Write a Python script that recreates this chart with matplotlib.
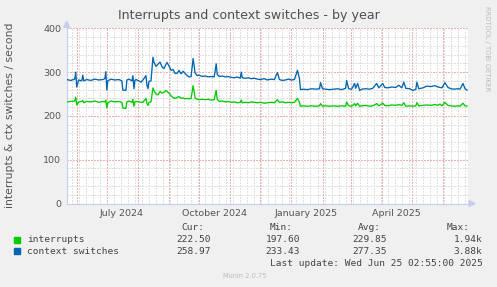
import datetime as dt
import matplotlib
matplotlib.use("Agg")
import matplotlib.pyplot as plt
import matplotlib.dates as mdates
from matplotlib.patches import Polygon, Rectangle

# ---------------- data ----------------
start_date = dt.datetime(2024, 5, 22)
end_date = dt.datetime(2025, 6, 26)

ctx_days = [0, 4, 8, 9, 10, 12, 15, 16, 17, 20, 24, 28, 32, 36, 38, 39, 40, 41, 44, 48, 52, 55, 56, 59,
            60, 62, 65, 66, 67, 68, 69, 72, 74, 76, 79, 80, 81, 82, 84, 86, 87, 89, 91, 93, 95, 97, 99,
            100, 102, 104, 106, 108, 110, 112, 114, 116, 118, 120, 122, 124, 126, 128, 130, 132, 135,
            138, 141, 144, 147, 149, 150, 152, 155, 158, 161, 164, 167, 170, 173, 174, 175, 178, 181,
            184, 187, 190, 193, 197, 200, 204, 207, 210, 212, 215, 218, 221, 224, 227, 230, 232, 233,
            236, 240, 244, 248, 252, 253, 255, 258, 262, 266, 270, 274, 278, 279, 281, 284, 287, 288,
            290, 292, 294, 298, 302, 305, 309, 311, 315, 317, 320, 324, 328, 331, 334, 336, 338, 342,
            345, 348, 349, 351, 355, 359, 363, 367, 370, 372, 374, 377, 380, 383, 386, 390, 392, 395,
            397, 399]
ctx_vals = [283, 281, 284, 300, 266, 282, 280, 293, 280, 283, 281, 284, 282, 283, 285, 301, 259, 280,
            284, 282, 283, 280, 259, 258, 282, 284, 280, 292, 262, 281, 283, 280, 277, 282, 292, 270,
            262, 279, 280, 334, 322, 313, 318, 323, 312, 308, 318, 322, 314, 304, 306, 297, 297, 304,
            296, 302, 297, 292, 289, 290, 331, 298, 292, 293, 290, 291, 289, 290, 289, 319, 295, 290,
            291, 289, 290, 288, 287, 289, 286, 300, 287, 286, 287, 285, 286, 284, 283, 285, 282, 284,
            283, 299, 283, 281, 282, 284, 282, 283, 304, 285, 260, 261, 260, 262, 261, 262, 276, 262,
            261, 260, 261, 262, 260, 263, 281, 262, 261, 274, 263, 274, 258, 261, 262, 261, 263, 274,
            264, 274, 265, 264, 266, 265, 270, 264, 277, 263, 262, 258, 261, 277, 262, 264, 268, 267,
            269, 266, 265, 264, 276, 265, 262, 261, 262, 261, 274, 262, 259]

irq_days = ctx_days
irq_vals = [232, 233, 234, 243, 225, 232, 233, 235, 230, 233, 232, 234, 231, 233, 232, 236, 218, 230,
            234, 232, 233, 231, 218, 217, 232, 234, 231, 238, 222, 232, 233, 232, 231, 231, 240, 228,
            224, 231, 232, 264, 258, 250, 248, 256, 252, 254, 258, 256, 252, 246, 242, 240, 242, 244,
            240, 241, 239, 240, 239, 240, 269, 241, 238, 237, 238, 237, 238, 236, 237, 258, 238, 233,
            234, 232, 233, 231, 232, 230, 231, 236, 230, 231, 230, 232, 231, 230, 231, 229, 230, 231,
            230, 237, 231, 232, 230, 231, 230, 231, 240, 231, 222, 223, 222, 223, 222, 223, 228, 222,
            223, 222, 223, 222, 223, 222, 232, 223, 222, 228, 223, 229, 222, 223, 224, 222, 223, 228,
            223, 229, 224, 223, 225, 224, 226, 224, 230, 222, 223, 222, 223, 230, 223, 224, 225, 224,
            226, 224, 227, 223, 231, 224, 223, 222, 223, 222, 229, 223, 222.5]

series_names = ["interrupts", "context switches"]
series_colors = ["#00CC00", "#0066B3"]
stat_cur = ["222.50", "258.97"]
stat_min = ["197.60", "233.43"]
stat_avg = ["229.85", "277.35"]
stat_max = ["1.94k", "3.88k"]
y_ticks = [0, 100, 200, 300, 400]
month_labels = ["July 2024", "October 2024", "January 2025", "April 2025"]
month_label_dates = [dt.datetime(2024, 7, 16), dt.datetime(2024, 10, 16),
                     dt.datetime(2025, 1, 16), dt.datetime(2025, 4, 16)]

title = "Interrupts and context switches - by year"
ylabel = "interrupts & ctx switches / second"
last_update = "Last update: Wed Jun 25 02:55:00 2025"

# ---------------- figure ----------------
W, H = 497, 287
fig = plt.figure(figsize=(W / 100, H / 100), dpi=100)
fig.patch.set_facecolor("#F0F0F0")

L, R, T, B = 66.7, 468.0, 28.3, 203.5
ax = fig.add_axes([L / W, 1 - B / H, (R - L) / W, (B - T) / H])
ax.set_facecolor("white")


def fx(x):
    return x / W


def fy(y):
    return 1 - y / H


irq_dates = [start_date + dt.timedelta(days=d) for d in irq_days]
ctx_dates = [start_date + dt.timedelta(days=d) for d in ctx_days]

ax.set_xlim(start_date, end_date)
ax.set_ylim(0, 400)

# grid
minor_col = "#E0E0E0"
major_col = "#F0B0B0"
dash = (0, (1.39, 1.39))
for v in range(20, 400, 20):
    if v % 100:
        ax.axhline(v, color=minor_col, lw=0.72, ls=dash, zorder=1, antialiased=False)
for v in [100, 200, 300, 400]:
    ax.axhline(v, color=major_col, lw=0.72, ls=dash, zorder=1, antialiased=False)

d = start_date
while d <= end_date:
    if d.weekday() == 0:
        ax.axvline(d, color=minor_col, lw=0.72, ls=dash, zorder=1, antialiased=False)
    d += dt.timedelta(days=1)
m = dt.datetime(2024, 6, 1)
while m <= end_date:
    ax.axvline(m, color=major_col, lw=0.72, ls=dash, zorder=1, antialiased=False)
    m = dt.datetime(m.year + (m.month // 12), m.month % 12 + 1, 1)

ax.plot(irq_dates, irq_vals, color=series_colors[0], lw=0.95, zorder=3)
ax.plot(ctx_dates, ctx_vals, color=series_colors[1], lw=0.95, zorder=3)

for s in ["top", "right"]:
    ax.spines[s].set_visible(False)
axis_col = "#C8CCF0"
ax.spines["left"].set_color(axis_col)
ax.spines["bottom"].set_color(axis_col)
ax.spines["left"].set_linewidth(0.8)
ax.spines["bottom"].set_linewidth(0.8)

ax.set_yticks(y_ticks)
ax.set_yticklabels([str(v) for v in y_ticks])
ax.set_xticks(month_label_dates)
ax.set_xticklabels(month_labels)
ax.tick_params(axis="both", length=0, labelsize=6.8, colors="#555555", pad=4)
ax.tick_params(axis="x", pad=4)

# arrows
fig.patches.append(Polygon([[fx(L - 3), fy(T - 1)], [fx(L + 3), fy(T - 1)], [fx(L), fy(T - 7)]],
                           closed=True, transform=fig.transFigure, color=axis_col, zorder=5))
fig.patches.append(Polygon([[fx(R + 1), fy(B - 3)], [fx(R + 1), fy(B + 3)], [fx(R + 7), fy(B)]],
                           closed=True, transform=fig.transFigure, color=axis_col, zorder=5))

fig.text(fx(248.5), fy(15), title, ha="center", va="center", fontsize=9.1, color="#505050")
fig.text(fx(10.5), fy(115), ylabel, ha="center", va="center", rotation=90, fontsize=7.8, color="#555555")
fig.text(fx(487), fy(6), "RRDTOOL / TOBI OETIKER", ha="center", va="top", rotation=270,
         fontsize=4.8, color="#BBBBBB")
fig.text(fx(245), fy(276), "Munin 2.0.75", ha="center", va="center", fontsize=4.8, color="#BBBBBB")

mono = "DejaVu Sans Mono"
fs = 6.8
tc = "#444444"
hy = 227.7
for lab, x in zip(["Cur:", "Min:", "Avg:", "Max:"], [181, 270, 358.3, 446.7]):
    fig.text(fx(x), fy(hy), lab, ha="left", va="center", family=mono, fontsize=fs, color=tc)

rows_y = [240, 251]
for i in range(2):
    y = rows_y[i]
    fig.patches.append(Rectangle((fx(14), fy(y + 3)), 6 / W, 6 / H, transform=fig.transFigure,
                                 color=series_colors[i], zorder=5))
    fig.text(fx(26.7), fy(y), series_names[i], ha="left", va="center", family=mono, fontsize=fs, color=tc)
    for txt, x in zip([stat_cur[i], stat_min[i], stat_avg[i], stat_max[i]], [210.7, 300, 387.3, 482.3]):
        fig.text(fx(x), fy(y), txt, ha="right", va="center", family=mono, fontsize=fs, color=tc)

fig.text(fx(482.3), fy(263.3), last_update, ha="right", va="center", family=mono, fontsize=fs, color=tc)

fig.savefig("out.png", dpi=100, facecolor=fig.get_facecolor())
